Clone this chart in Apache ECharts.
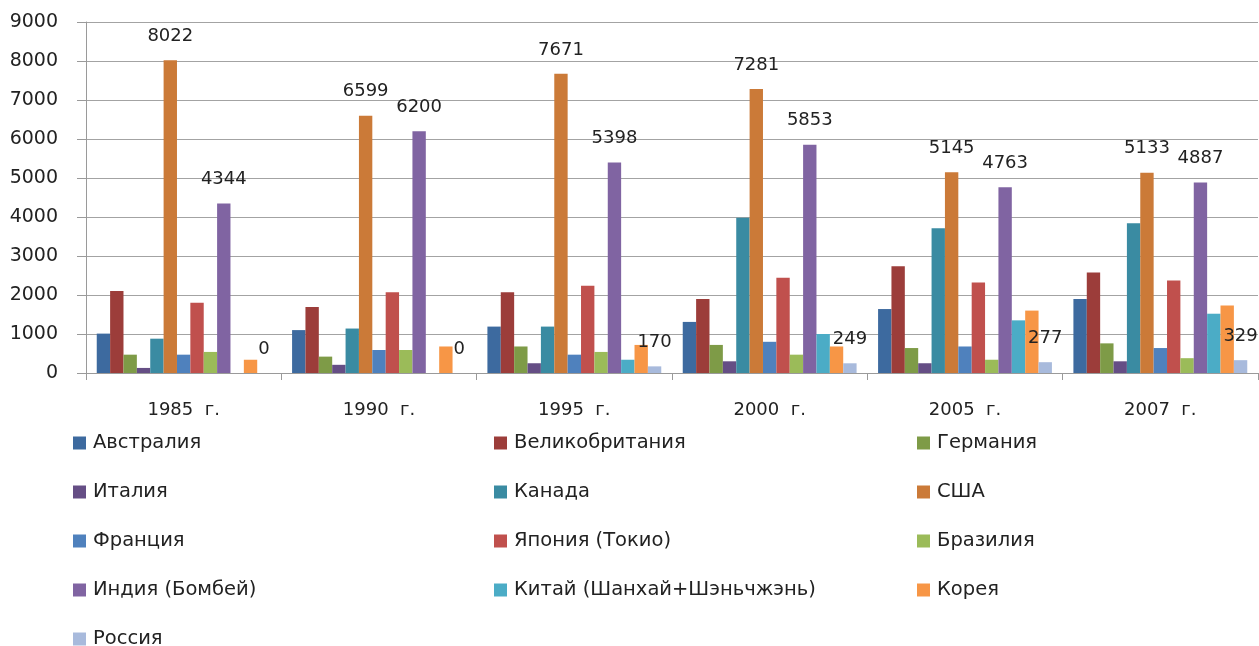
<!DOCTYPE html>
<html>
<head>
<meta charset="utf-8">
<script src="https://cdn.jsdelivr.net/npm/echarts@6/dist/echarts.min.js"></script>
<style>
  html, body { margin: 0; padding: 0; background: #fff; }
  #chart { width: 1259px; height: 646px; }
</style>
</head>
<body>
<div id="chart"></div>
<script>
const years = ['1985  г.', '1990  г.', '1995  г.', '2000  г.', '2005  г.', '2007  г.']

const australia = [1010, 1100, 1190, 1310, 1640, 1900]
const britain = [2100, 1690, 2070, 1900, 2740, 2580]
const germany = [470, 420, 680, 720, 640, 760]
const italy = [130, 210, 250, 300, 250, 300]
const canada = [880, 1140, 1190, 3980, 3710, 3840]
const usa = [8022, 6599, 7671, 7281, 5145, 5133]
const france = [470, 590, 470, 800, 680, 640]
const japan = [1800, 2070, 2240, 2440, 2320, 2370]
const brazil = [540, 590, 540, 470, 340, 380]
const india = [4344, 6200, 5398, 5853, 4763, 4887]
const china = [0, 0, 340, 1000, 1350, 1520]
const korea = [340, 680, 720, 680, 1600, 1730]
const russia = [0, 0, 170, 249, 277, 329]

const names = ['Австралия', 'Великобритания', 'Германия', 'Италия', 'Канада', 'США',
  'Франция', 'Япония (Токио)', 'Бразилия', 'Индия (Бомбей)', 'Китай (Шанхай+Шэньчжэнь)', 'Корея', 'Россия']
const values = [australia, britain, germany, italy, canada, usa,
  france, japan, brazil, india, china, korea, russia]
const colors = ['#3d6a9f', '#9c3d3a', '#7e9b47', '#654e85', '#3a8ba2', '#cb7a38',
  '#4f81bd', '#c0504d', '#9bbb59', '#8064a2', '#4bacc6', '#f79646', '#a8badc']
const labelled = ['США', 'Индия (Бомбей)', 'Россия']

const font = '"DejaVu Sans", sans-serif'
const textColor = '#222'

const chart = echarts.init(document.getElementById('chart'))

const legendBase = {
  orient: 'vertical',
  top: 428,
  height: 230,
  itemWidth: 13,
  itemHeight: 13,
  itemGap: 29,
  icon: 'rect',
  selectedMode: false,
  textStyle: { fontFamily: font, fontSize: 19.5, color: textColor, lineHeight: 20, padding: [0, 0, 0, 2] }
}

const option = {
  animation: false,
  color: colors,
  grid: { left: 86, right: 1, top: 22, bottom: 273 },
  legend: [
    Object.assign({}, legendBase, { left: 68, data: [names[0], names[3], names[6], names[9], names[12]] }),
    Object.assign({}, legendBase, { left: 489, data: [names[1], names[4], names[7], names[10]] }),
    Object.assign({}, legendBase, { left: 912, data: [names[2], names[5], names[8], names[11]] })
  ],
  xAxis: {
    type: 'category',
    data: years,
    axisLine: { lineStyle: { color: '#9a9a9a', width: 1 } },
    axisTick: { show: true, length: 7, lineStyle: { color: '#9a9a9a' } },
    axisLabel: { fontFamily: font, fontSize: 18, color: textColor, margin: 28 }
  },
  yAxis: {
    type: 'value',
    min: 0,
    max: 9000,
    interval: 1000,
    axisLine: { show: true, lineStyle: { color: '#9a9a9a', width: 1 } },
    axisTick: { show: true, length: 9, lineStyle: { color: '#9a9a9a' } },
    axisLabel: { fontFamily: font, fontSize: 19, color: textColor, margin: 28, formatter: v => String(v) },
    splitLine: { lineStyle: { color: '#a3a3a3', width: 1 } }
  },
  series: names.map((name, i) => ({
    name: name,
    type: 'bar',
    data: values[i],
    barGap: '0%',
    barCategoryGap: '11%',
    itemStyle: { color: colors[i] },
    label: {
      show: labelled.includes(name),
      position: 'top',
      distance: 15,
      fontFamily: font,
      fontSize: 18,
      color: textColor
    }
  }))
}

chart.setOption(option)
</script>
</body>
</html>
